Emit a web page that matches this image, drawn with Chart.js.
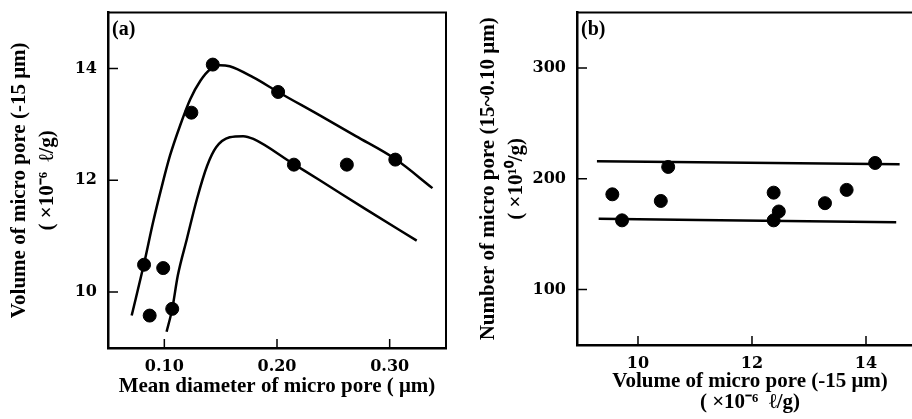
<!DOCTYPE html>
<html><head><meta charset="utf-8">
<script src="https://cdn.jsdelivr.net/npm/chart.js@4"></script>
<style>
html,body{margin:0;padding:0;background:#fff;overflow:hidden;width:912px;height:419px;position:relative}
#ca{position:absolute;left:0;top:0}
#cb{position:absolute;left:460px;top:0}
</style></head>
<body>
<canvas id="ca" width="460" height="419"></canvas>
<canvas id="cb" width="480" height="419"></canvas>
<script>
// ---- Panel (a) data ----
const aDotX = [0.082, 0.087, 0.099, 0.107, 0.124, 0.143, 0.201, 0.215, 0.262, 0.305];
const aDotY = [10.49, 9.58, 10.43, 9.70, 13.21, 14.07, 13.58, 12.28, 12.28, 12.37];
const aUpperX = [0.071, 0.082, 0.090, 0.098, 0.105, 0.114, 0.123, 0.132, 0.141, 0.149, 0.158, 0.179, 0.201, 0.238, 0.270, 0.305, 0.338];
const aUpperY = [9.58, 10.51, 11.25, 11.91, 12.44, 12.98, 13.45, 13.78, 13.99, 14.06, 14.04, 13.84, 13.58, 13.16, 12.79, 12.38, 11.86];
const aLowerX = [0.102, 0.107, 0.112, 0.120, 0.129, 0.138, 0.146, 0.158, 0.170, 0.179, 0.214, 0.238, 0.279, 0.324];
const aLowerY = [9.29, 9.70, 10.30, 10.95, 11.67, 12.26, 12.59, 12.77, 12.79, 12.74, 12.30, 12.00, 11.48, 10.92];
const aXTicks = [0.10, 0.20, 0.30];
const aYTicks = [10, 12, 14];
const aXTitle = 'Mean diameter of micro pore ( \u03bcm)';
const aYTitle = ['Volume of micro pore (-15 \u03bcm)', '( \u00d710\u207b\u2076  \u2113/g)'];

// ---- Panel (b) data ----
const bDotX = [9.55, 9.72, 10.40, 10.53, 12.38, 12.47, 12.38, 13.28, 13.66, 14.16];
const bDotY = [186.0, 162.5, 180.0, 210.7, 187.5, 170.5, 162.5, 178.0, 190.0, 214.3];
const bUpperX = [9.28, 14.59];
const bUpperY = [215.8, 213.1];
const bLowerX = [9.31, 14.53];
const bLowerY = [164.0, 160.7];
const bXTicks = [10, 12, 14];
const bYTicks = [100, 200, 300];
const bXTitle = ['Volume of micro pore (-15 \u03bcm)', '( \u00d710\u207b\u2076  \u2113/g)'];
const bYTitle = ['Number of micro pore (15~0.10 \u03bcm)', '( \u00d710\u00b9\u2070/g)'];

const pts = (xs, ys) => xs.map((x, i) => ({x, y: ys[i]}));

const framePlugin = {
  id: 'frame',
  afterDraw(chart, args, opts) {
    const {ctx, chartArea: a, scales} = chart;
    ctx.save();
    ctx.strokeStyle = '#000';
    ctx.lineWidth = 2;
    ctx.beginPath();
    ctx.moveTo(a.left, a.top);
    ctx.lineTo(a.right, a.top);
    if (opts.right) ctx.lineTo(a.right, a.bottom);
    ctx.stroke();
    ctx.lineWidth = 1.5;
    ctx.beginPath();
    scales.x.ticks.forEach(t => {
      const px = scales.x.getPixelForValue(t.value);
      ctx.moveTo(px, a.bottom);
      ctx.lineTo(px, a.bottom - 9);
    });
    scales.y.ticks.forEach(t => {
      const py = scales.y.getPixelForValue(t.value);
      ctx.moveTo(a.left, py);
      ctx.lineTo(a.left + 10, py);
    });
    ctx.stroke();
    ctx.fillStyle = '#000';
    ctx.font = 'bold 20px "Liberation Serif"';
    ctx.textBaseline = 'middle';
    ctx.textAlign = 'left';
    ctx.fillText(opts.label, a.left + 4, a.top + 17);
    ctx.restore();
  }
};

const tickFont = {family: '"DejaVu Serif"', weight: 'bold', size: 16};
const titleFont = {family: '"Liberation Serif"', weight: 'bold', size: 21, lineHeight: 1.29};

function makeChart(id, cfg) {
  return new Chart(document.getElementById(id), {
    type: 'scatter',
    data: {
      datasets: [
        {data: pts(cfg.dotX, cfg.dotY), backgroundColor: '#000', borderColor: '#000', pointRadius: 6.5, pointHoverRadius: 6.5, showLine: false},
        {data: pts(cfg.upX, cfg.upY), showLine: true, borderColor: '#000', borderWidth: 2.5, pointRadius: 0, tension: 0.4, cubicInterpolationMode: 'monotone', fill: false},
        {data: pts(cfg.loX, cfg.loY), showLine: true, borderColor: '#000', borderWidth: 2.5, pointRadius: 0, tension: 0.4, cubicInterpolationMode: 'monotone', fill: false}
      ]
    },
    options: {
      responsive: false,
      animation: false,
      devicePixelRatio: 1,
      layout: {padding: cfg.pad},
      plugins: {legend: {display: false}, tooltip: {enabled: false}, frame: {label: cfg.label, right: cfg.right}},
      scales: {
        x: {
          type: 'linear', min: cfg.xMin, max: cfg.xMax,
          afterBuildTicks: s => { s.ticks = cfg.xTicks.map(v => ({value: v})); },
          afterFit: s => { s.height = cfg.xH; },
          ticks: {font: tickFont, color: '#000', padding: 1, callback: cfg.xFmt},
          grid: {display: false},
          border: {display: true, color: '#000', width: 2.5},
          title: {display: true, text: cfg.xTitle, font: cfg.xTitleFont, color: '#000', padding: cfg.xTitlePad}
        },
        y: {
          type: 'linear', min: cfg.yMin, max: cfg.yMax,
          afterBuildTicks: s => { s.ticks = cfg.yTicks.map(v => ({value: v})); },
          afterFit: s => { s.width = cfg.yW; },
          ticks: {font: tickFont, color: '#000', padding: 3, callback: v => String(v)},
          grid: {display: false},
          border: {display: true, color: '#000', width: 2.5},
          title: {display: true, text: cfg.yTitle, font: titleFont, color: '#000', padding: cfg.yTitlePad}
        }
      }
    },
    plugins: [framePlugin]
  });
}

makeChart('ca', {
  dotX: aDotX, dotY: aDotY, upX: aUpperX, upY: aUpperY, loX: aLowerX, loY: aLowerY,
  xMin: 0.05, xMax: 0.35, yMin: 9, yMax: 15, xTicks: aXTicks, yTicks: aYTicks,
  xFmt: v => Number(v).toFixed(2),
  pad: {left: 0, right: 14, top: 12, bottom: 0},
  xH: 71, yW: 108,
  xTitle: aXTitle, yTitle: aYTitle,
  xTitleFont: titleFont, xTitlePad: {top: 0, bottom: 18.5},
  yTitlePad: {top: 6.5, bottom: 0},
  label: '(a)', right: true
});

makeChart('cb', {
  dotX: bDotX, dotY: bDotY, upX: bUpperX, upY: bUpperY, loX: bLowerX, loY: bLowerY,
  xMin: 8.93, xMax: 15, yMin: 50, yMax: 350, xTicks: bXTicks, yTicks: bYTicks,
  xFmt: v => String(v),
  pad: {left: 0, right: 17, top: 12, bottom: 0},
  xH: 74, yW: 117,
  xTitle: bXTitle, yTitle: bYTitle,
  xTitleFont: {family: '"Liberation Serif"', weight: 'bold', size: 21, lineHeight: 1.0}, xTitlePad: {top: 0, bottom: 5.5},
  yTitlePad: {top: 15.5, bottom: 0},
  label: '(b)', right: true
});
</script>
</body></html>
